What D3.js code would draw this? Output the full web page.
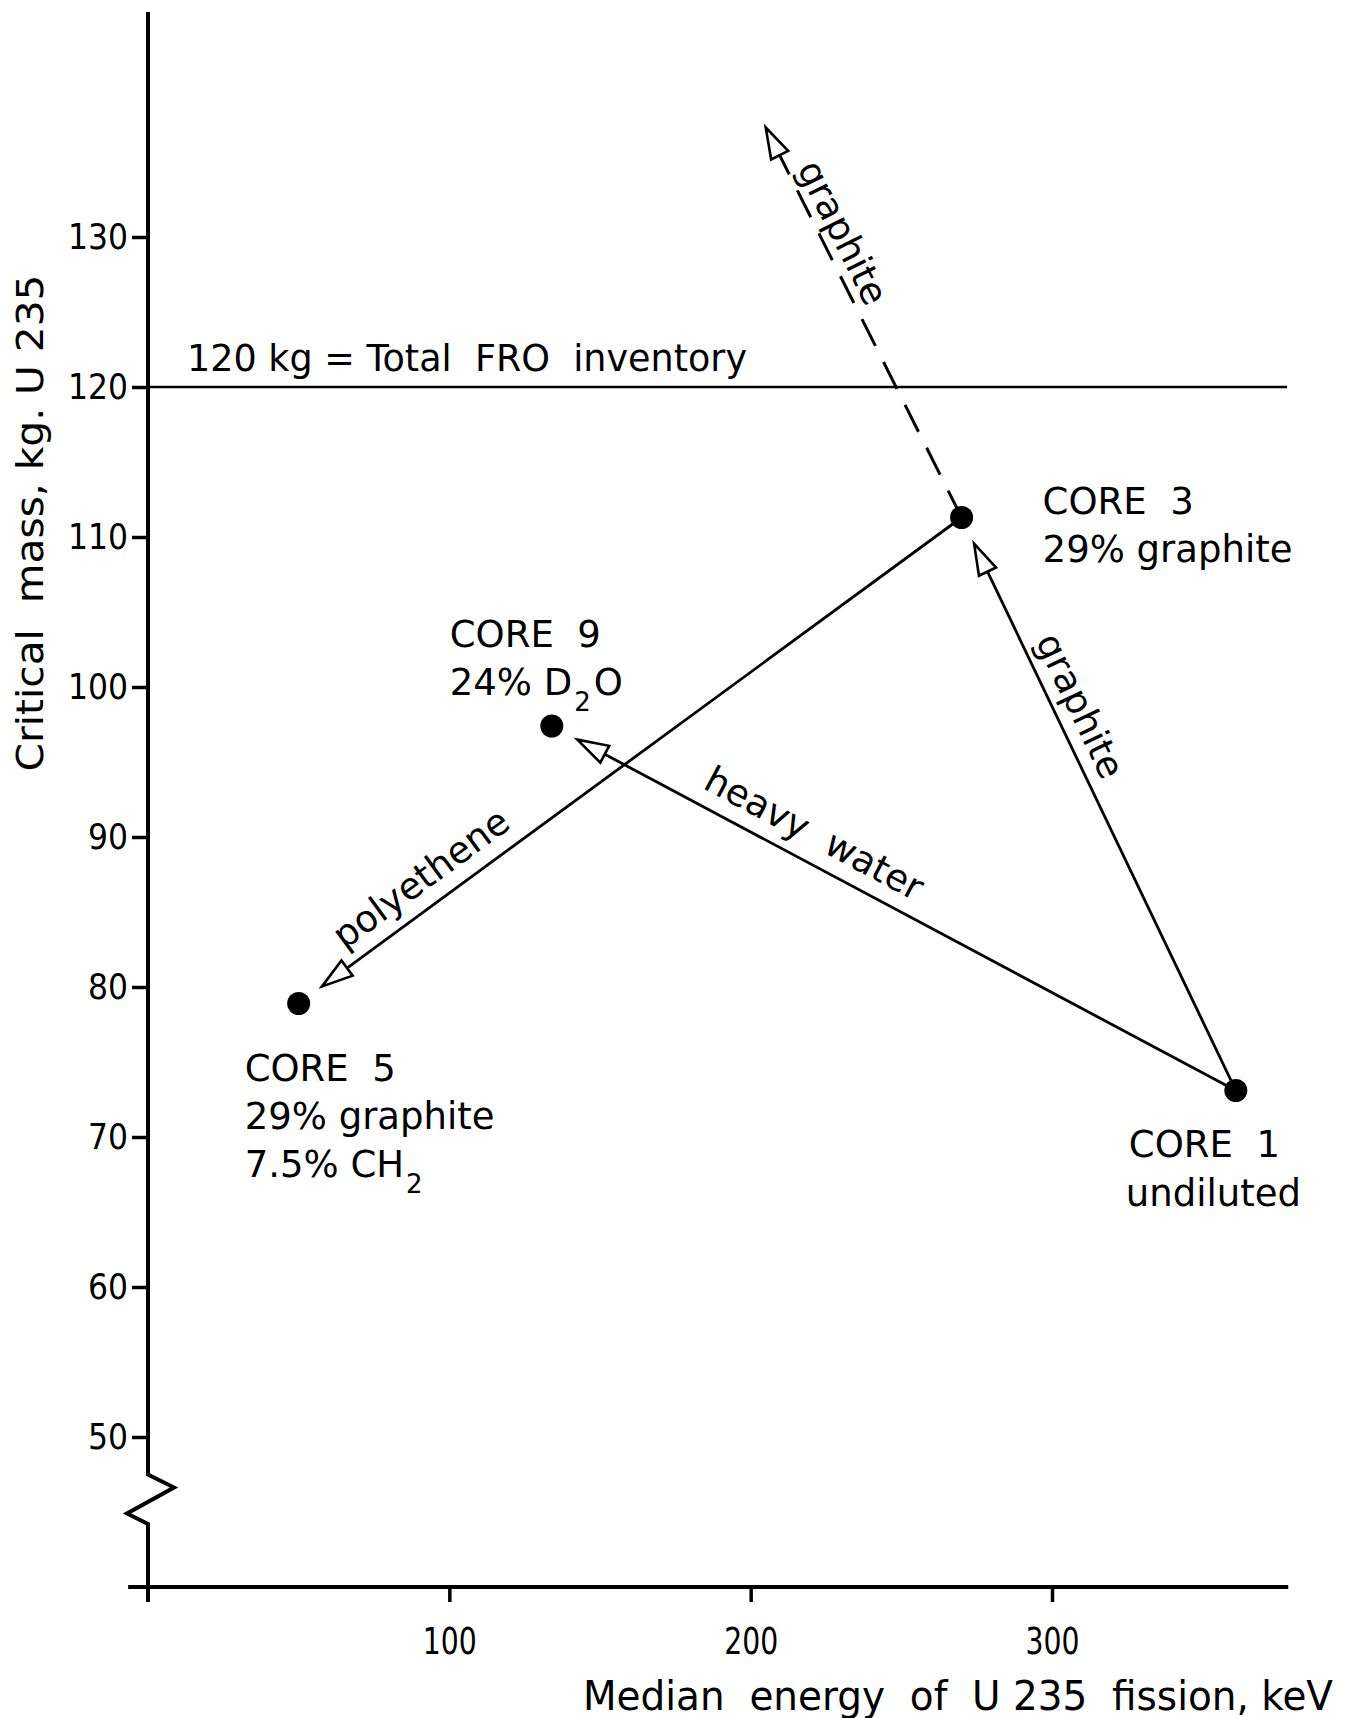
<!DOCTYPE html>
<html lang="en">
<head>
<meta charset="utf-8">
<script src="https://cdn.jsdelivr.net/npm/d3@7"></script>
<style>
  body { margin: 0; background: #fff; }
  svg { display: block; background: #fff; font-family: "DejaVu Sans", sans-serif; }
  text { fill: #000; white-space: pre; }
  .axis-line { stroke: #000; stroke-width: 4; fill: none; stroke-linejoin: miter; }
  .tick line { stroke: #000; stroke-width: 3.5; }
  .inventory { stroke: #000; stroke-width: 2.5; }
  .arrow line { stroke: #000; stroke-width: 2.8; }
  .arrow .dashed { stroke-dasharray: 30 18; stroke-width: 3; }
  .arrow polygon { fill: #fff; stroke: #000; stroke-width: 2.6; stroke-linejoin: miter; }
  .core { fill: #000; }
</style>
</head>
<body>
<svg id="chart" width="1358" height="1718"></svg>
<script>
// values
var cores = ["CORE  1", "CORE  3", "CORE  9", "CORE  5"];
var energyKeV = [361, 270, 134, 50];
var criticalMass = [73.1, 111.3, 97.4, 78.9];
var coreNotes = [["undiluted"], ["29% graphite"], ["24% D_2O"], ["29% graphite", "7.5% CH_2"]];

var arrowFrom = [0, 0, 1];
var arrowTo = [2, 1, 3];
var arrowText = ["heavy  water", "graphite", "polyethene"];

var trendFrom = 1;
var trendEnd = [205, 137.3];
var trendText = "graphite";

var inventoryKg = 120;
var inventoryText = "120 kg = Total  FRO  inventory";

var xTicks = [100, 200, 300];
var yTicks = [50, 60, 70, 80, 90, 100, 110, 120, 130];
var xTitle = "Median  energy  of  U 235  fission, keV";
var yTitle = "Critical  mass, kg. U 235";

var svg = d3.select("#chart");

var x = d3.scaleLinear().domain([0, 300]).range([148, 1052]);
var y = d3.scaleLinear().domain([50, 130]).range([1437, 237]);

var x0 = x(0), xAxisY = y(40);

// axes
var yAxis = svg.append("g")
    .attr("transform", "translate(" + x0 + ",0)")
    .call(d3.axisLeft(y).tickValues(yTicks).tickSize(16).tickPadding(4));
yAxis.select(".domain").remove();
yAxis.attr("font-size", 36).attr("font-family", null);
yAxis.selectAll("text").attr("textLength", function(d) { return String(d).length * 20; })
    .attr("lengthAdjust", "spacingAndGlyphs");

var xAxis = svg.append("g")
    .attr("transform", "translate(0," + xAxisY + ")")
    .call(d3.axisBottom(x).tickValues(xTicks).tickSize(15).tickPadding(26));
xAxis.select(".domain").remove();
xAxis.attr("font-size", 37).attr("font-family", null);
xAxis.selectAll("text").attr("textLength", 54).attr("lengthAdjust", "spacingAndGlyphs");

// y axis line with break
var yb1 = y(47.5), yb2 = y(44.2);
var axisPath = d3.path();
axisPath.moveTo(x0, y(145));
axisPath.lineTo(x0, yb1);
axisPath.lineTo(x0 + 26, yb1 + 13);
axisPath.lineTo(x0 - 21, yb1 + 39);
axisPath.lineTo(x0, yb2);
axisPath.lineTo(x0, xAxisY + 15);
svg.append("path").attr("class", "axis-line").attr("d", axisPath.toString());

svg.append("line").attr("class", "axis-line")
    .attr("x1", x(-6.6)).attr("x2", x(378.4))
    .attr("y1", xAxisY).attr("y2", xAxisY);

// inventory line
svg.append("line").attr("class", "inventory")
    .attr("x1", x0).attr("x2", x(378))
    .attr("y1", y(inventoryKg)).attr("y2", y(inventoryKg));
svg.append("text")
    .attr("x", x0 + 39).attr("y", y(inventoryKg) - 16)
    .attr("font-size", 38)
    .attr("textLength", 560).attr("lengthAdjust", "spacingAndGlyphs")
    .text(inventoryText);

// titles
svg.append("text")
    .attr("x", 583).attr("y", 1710)
    .attr("font-size", 40)
    .attr("textLength", 750).attr("lengthAdjust", "spacingAndGlyphs")
    .text(xTitle);

svg.append("text")
    .attr("transform", "translate(43,523) rotate(-90)")
    .attr("text-anchor", "middle")
    .attr("font-size", 38)
    .attr("textLength", 497).attr("lengthAdjust", "spacingAndGlyphs")
    .text(yTitle);

// arrows
function pt(i) { return [x(energyKeV[i]), y(criticalMass[i])]; }

function drawArrow(p0, p1, gap, dashed, label, frac, off) {
  var dx = p1[0] - p0[0], dy = p1[1] - p0[1];
  var len = Math.sqrt(dx * dx + dy * dy);
  var u = [dx / len, dy / len];
  var L = 31, W = 9.5;
  var tip = [p1[0] - u[0] * gap, p1[1] - u[1] * gap];
  var base = [tip[0] - u[0] * L, tip[1] - u[1] * L];
  var g = svg.append("g").attr("class", "arrow");
  g.append("line").attr("class", dashed ? "dashed" : null)
      .attr("x1", p0[0]).attr("y1", p0[1])
      .attr("x2", base[0]).attr("y2", base[1]);
  g.append("polygon").attr("points", [
    tip,
    [base[0] - u[1] * W, base[1] + u[0] * W],
    [base[0] + u[1] * W, base[1] - u[0] * W]
  ].map(function(p) { return p.join(","); }).join(" "));

  // label reads left to right along the line, above it
  var A = p0[0] < p1[0] ? p0 : p1, B = A === p0 ? p1 : p0;
  var v = [(B[0] - A[0]) / len, (B[1] - A[1]) / len];
  var up = [v[1], -v[0]];
  var cx = A[0] + v[0] * frac * len + up[0] * off;
  var cy = A[1] + v[1] * frac * len + up[1] * off;
  var ang = Math.atan2(v[1], v[0]) * 180 / Math.PI;
  g.append("text")
      .attr("transform", "translate(" + cx + "," + cy + ") rotate(" + ang + ")")
      .attr("text-anchor", "middle")
      .attr("font-size", 37)
      .text(label);
}

var labelFrac = [0.364, 0.348, 0.21];
var labelOff = [16, 13, 16];
arrowFrom.forEach(function(f, i) {
  drawArrow(pt(f), pt(arrowTo[i]), 29, false, arrowText[i], labelFrac[i], labelOff[i]);
});
drawArrow(pt(trendFrom), [x(trendEnd[0]), y(trendEnd[1])], 0, true, trendText, 0.294, 9);

// core points
svg.selectAll("circle.core")
  .data(cores)
  .enter().append("circle")
    .attr("class", "core")
    .attr("cx", function(d, i) { return x(energyKeV[i]); })
    .attr("cy", function(d, i) { return y(criticalMass[i]); })
    .attr("r", 11.5);

// core labels: offset of first line from the point, in px
var labelDx = [-107, 81, -102, -54];
var labelDy = [66, -4, -79, 77];
var lineGap = 48;

// "_2" marks a subscript digit
function addRich(t, str) {
  var shift = 0;
  str.split(/_(\d)/).forEach(function(part, k) {
    if (!part) return;
    var sub = k % 2 === 1;
    var ts = t.append("tspan").text(part);
    if (sub) {
      ts.attr("font-size", 26).attr("dy", 16).attr("dx", 2);
      shift = 16;
    } else if (shift) {
      ts.attr("dy", -shift).attr("dx", 3);
      shift = 0;
    }
  });
}

cores.forEach(function(name, i) {
  var px = x(energyKeV[i]) + labelDx[i], py = y(criticalMass[i]) + labelDy[i];
  var lines = [name].concat(coreNotes[i]);
  lines.forEach(function(s, j) {
    var t = svg.append("text")
        .attr("x", px - (i === 0 && j > 0 ? 3 : 0))
        .attr("y", py + j * (lineGap + (i === 0 ? 1 : 0)))
        .attr("font-size", 37);
    addRich(t, s);
  });
});
</script>
</body>
</html>
